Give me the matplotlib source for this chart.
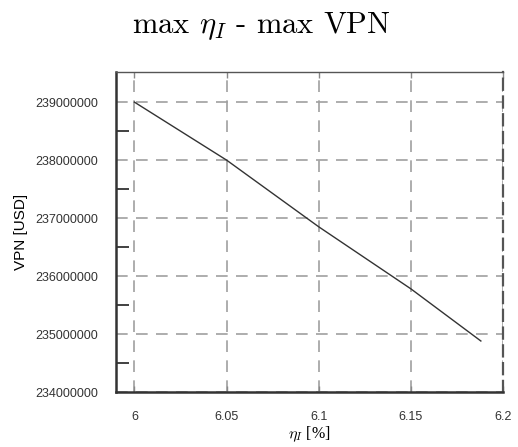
import matplotlib
matplotlib.use("Agg")
import matplotlib.pyplot as plt
from matplotlib.ticker import FixedLocator

plt.rcParams["mathtext.fontset"] = "cm"
plt.rcParams["axes.unicode_minus"] = False

# eficiencia vs VPN
eta = [6.0, 6.05, 6.1, 6.15, 6.188]
vpn = [239.0e6, 238.0e6, 236.85e6, 235.78e6, 234.88e6]

xticks = [6.0, 6.05, 6.1, 6.15, 6.2]
xlabels = ["6", "6.05", "6.1", "6.15", "6.2"]
yticks = [234e6, 235e6, 236e6, 237e6, 238e6, 239e6]
ylabels = ["234000000", "235000000", "236000000", "237000000", "238000000", "239000000"]
yminor = [234.5e6, 235.5e6, 236.5e6, 237.5e6, 238.5e6]

fig = plt.figure(figsize=(5.18, 4.47), dpi=100)
ax = fig.add_axes([0.2239, 0.123, 0.7471, 0.716])

ax.plot(eta, vpn, color="#333333", lw=1.0, zorder=3)

ax.set_xlim(5.99, 6.2)
ax.set_ylim(234e6, 239.52e6)

ax.set_xticks(xticks)
ax.set_xticklabels(xlabels, fontfamily="Liberation Sans", fontsize=9, color="#333333")
ax.set_yticks(yticks)
ax.set_yticklabels(ylabels, fontfamily="Liberation Sans", fontsize=9, color="#333333")
ax.yaxis.set_minor_locator(FixedLocator(yminor))

ax.tick_params(axis="y", which="major", length=0, pad=13)
ax.tick_params(axis="y", which="minor", direction="in", length=9, width=1.3, color="#333333")
ax.tick_params(axis="x", which="major", direction="in", length=4, width=1, color="#888888",
               pad=14, top=True)

ax.grid(True, which="major", color="#a0a0a0", lw=1.2, linestyle=(0, (7, 5)))

for s in ("left", "bottom"):
    ax.spines[s].set_linewidth(1.8)
    ax.spines[s].set_color("#333333")
ax.spines["top"].set_linewidth(1.0)
ax.spines["top"].set_color("#555555")
ax.spines["right"].set_linewidth(1.6)
ax.spines["right"].set_color("#555555")
ax.spines["right"].set_linestyle((0, (5, 3)))

ax.set_xlabel(r"$\eta_I$ [%]", fontfamily="Liberation Serif", fontsize=11.5, labelpad=1)
ax.set_ylabel("VPN [USD]", fontfamily="Liberation Sans", fontsize=11, labelpad=5)

fig.text(0.504, 0.925, r"max $\eta_I$ - max VPN", ha="center", va="baseline",
         fontfamily="cmr10", fontsize=22)

fig.savefig("out.png", dpi=100)
